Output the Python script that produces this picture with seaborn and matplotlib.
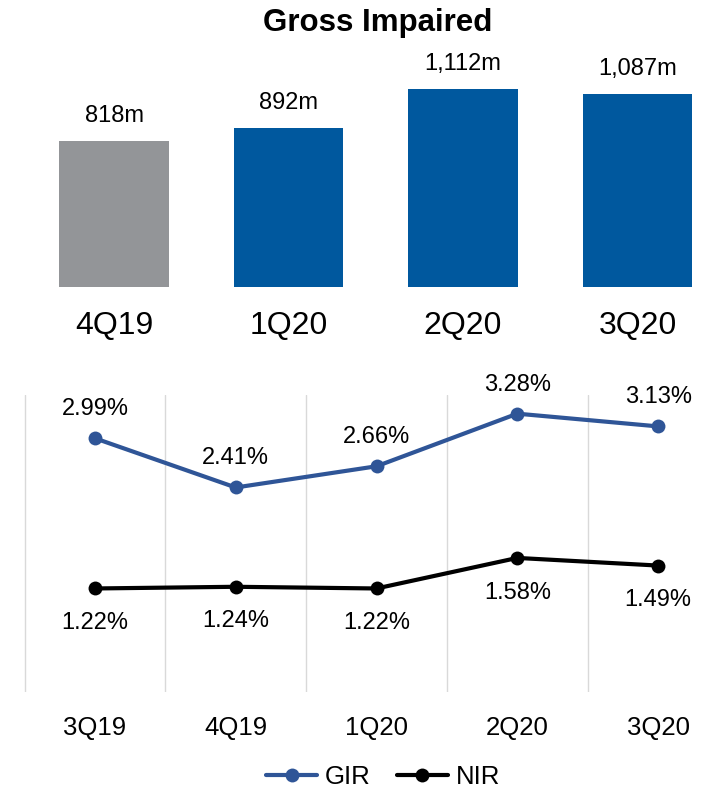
import matplotlib
matplotlib.use("Agg")
import matplotlib.pyplot as plt
import seaborn as sns
import pandas as pd
from matplotlib.lines import Line2D

# Gross impaired balances by quarter
bar_quarters = ["4Q19", "1Q20", "2Q20", "3Q20"]
gross_impaired = [818, 892, 1112, 1087]
bar_colors = ["#939598", "#00589E", "#00589E", "#00589E"]

# Impaired ratios (%)
ratio_quarters = ["3Q19", "4Q19", "1Q20", "2Q20", "3Q20"]
gir = [2.99, 2.41, 2.66, 3.28, 3.13]
nir = [1.22, 1.24, 1.22, 1.58, 1.49]

GIR_COLOR = "#2F5597"
NIR_COLOR = "#000000"

sns.set_theme(style="white")
plt.rcParams["font.family"] = ["Liberation Sans", "DejaVu Sans"]
plt.rcParams["text.color"] = "#000000"

W, H = 724, 791
fig = plt.figure(figsize=(W / 100, H / 100), dpi=100)

# ---- Top panel: bars ----
ax1 = fig.add_axes([26.75 / W, 1 - 287 / H, 698 / W, 247 / H])
bars_df = pd.DataFrame({"quarter": bar_quarters, "value": gross_impaired})
sns.barplot(data=bars_df, x="quarter", y="value", hue="quarter",
            palette=dict(zip(bar_quarters, bar_colors)), width=0.63,
            legend=False, saturation=1, linewidth=0, ax=ax1)
ax1.set_xlim(-0.5, 3.5)
ax1.set_ylim(0, 247 / 0.178)
for i, v in enumerate(gross_impaired):
    ax1.annotate(f"{v:,}m", (i, v), xytext=(0, 18), textcoords="offset points",
                 ha="center", va="center", fontsize=17, color="#000000")
ax1.set_xlabel("")
ax1.set_ylabel("")
ax1.set_yticks([])
ax1.tick_params(axis="x", length=0, pad=17, labelsize=23, labelcolor="#000000")
for s in ax1.spines.values():
    s.set_visible(False)
fig.text(378 / W, 1 - 23 / H, "Gross Impaired", ha="center", va="center",
         fontsize=22.5, fontweight="bold", color="#000000")

# ---- Bottom panel: ratio lines ----
ax2 = fig.add_axes([24.5 / W, 1 - 692 / H, 704 / W, 297 / H])
lines_df = pd.DataFrame({
    "quarter": ratio_quarters * 2,
    "ratio": gir + nir,
    "series": ["GIR"] * len(gir) + ["NIR"] * len(nir),
})
sns.lineplot(data=lines_df, x="quarter", y="ratio", hue="series",
             palette={"GIR": GIR_COLOR, "NIR": NIR_COLOR}, marker="o",
             markersize=10, markeredgewidth=0, linewidth=3, legend=False,
             sort=False, ax=ax2)
ax2.set_xlim(-0.5, 4.5)
ax2.set_ylim(0, 3.5)
for i, v in enumerate(gir):
    ax2.annotate(f"{v:.2f}%", (i, v), xytext=(0, 21), textcoords="offset points",
                 ha="center", va="center", fontsize=17, color="#000000")
for i, v in enumerate(nir):
    ax2.annotate(f"{v:.2f}%", (i, v), xytext=(0, -25), textcoords="offset points",
                 ha="center", va="center", fontsize=17, color="#000000")
for b in [-0.5, 0.5, 1.5, 2.5, 3.5]:
    ax2.axvline(b, color="#D9D9D9", linewidth=1, zorder=0)
ax2.set_xlabel("")
ax2.set_ylabel("")
ax2.set_yticks([])
ax2.tick_params(axis="x", length=0, pad=17, labelsize=18.5, labelcolor="#000000")
for s in ax2.spines.values():
    s.set_visible(False)

handles = [
    Line2D([], [], color=GIR_COLOR, linewidth=3, marker="o", markersize=10,
           markeredgewidth=0),
    Line2D([], [], color=NIR_COLOR, linewidth=3, marker="o", markersize=10,
           markeredgewidth=0),
]
fig.legend(handles, ["GIR", "NIR"], loc="center",
           bbox_to_anchor=(383 / W, 1 - 777 / H), ncol=2, frameon=False,
           fontsize=18.5, handlelength=2.0, handletextpad=0.3,
           columnspacing=1.0, labelcolor="#000000")

fig.savefig("out.png", dpi=100)
